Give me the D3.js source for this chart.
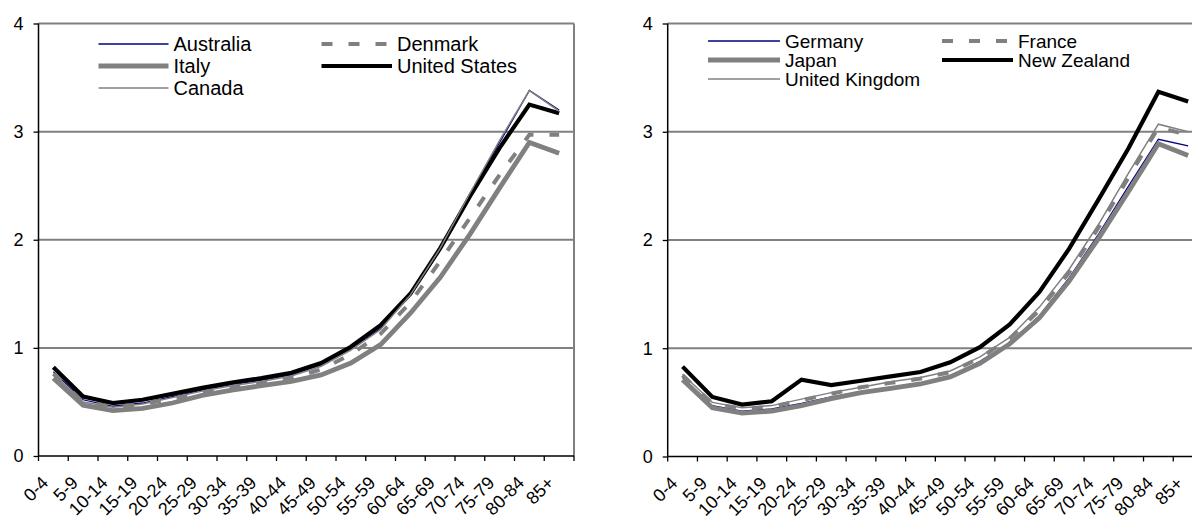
<!DOCTYPE html>
<html>
<head>
<meta charset="utf-8">
<script src="https://cdn.jsdelivr.net/npm/d3@7"></script>
<style>
  html, body { margin: 0; padding: 0; background: #fff; }
  svg { display: block; font-family: "Liberation Sans", Arial, sans-serif; }
</style>
</head>
<body>
<svg id="chart" width="1192" height="521"></svg>
<script>
// ---- data ----
const categories = ["0-4","5-9","10-14","15-19","20-24","25-29","30-34","35-39","40-44","45-49","50-54","55-59","60-64","65-69","70-74","75-79","80-84","85+"];
const yTicks = [0, 1, 2, 3, 4];

// left panel
const australia    = [0.78,0.52,0.46,0.49,0.55,0.61,0.66,0.70,0.75,0.84,0.99,1.18,1.50,1.92,2.42,2.90,3.38,3.20];
const denmark      = [0.76,0.51,0.45,0.48,0.53,0.59,0.64,0.68,0.72,0.80,0.94,1.13,1.42,1.80,2.20,2.60,2.97,2.97];
const italy        = [0.72,0.47,0.42,0.44,0.49,0.56,0.61,0.65,0.69,0.75,0.86,1.03,1.32,1.65,2.05,2.48,2.90,2.80];
const unitedStates = [0.82,0.55,0.49,0.52,0.575,0.63,0.68,0.72,0.77,0.86,1.01,1.21,1.50,1.92,2.40,2.85,3.25,3.17];
const canada       = [0.76,0.50,0.45,0.48,0.54,0.60,0.65,0.69,0.74,0.83,0.98,1.17,1.49,1.92,2.43,2.92,3.38,3.19];

// right panel
const germany        = [0.73,0.47,0.42,0.44,0.49,0.55,0.60,0.64,0.68,0.74,0.88,1.05,1.30,1.65,2.06,2.50,2.93,2.87];
const france         = [0.75,0.49,0.44,0.46,0.52,0.58,0.64,0.68,0.72,0.78,0.91,1.09,1.35,1.70,2.12,2.58,3.04,2.97];
const japan          = [0.71,0.45,0.40,0.42,0.47,0.535,0.59,0.63,0.67,0.735,0.86,1.04,1.28,1.62,2.02,2.45,2.89,2.78];
const newZealand     = [0.83,0.55,0.48,0.51,0.71,0.66,0.70,0.74,0.78,0.87,1.01,1.22,1.52,1.92,2.38,2.85,3.37,3.28];
const unitedKingdom  = [0.76,0.50,0.45,0.47,0.53,0.59,0.64,0.69,0.73,0.79,0.92,1.10,1.38,1.73,2.15,2.62,3.07,3.00];

const leftNames  = ["Australia","Denmark","Italy","United States","Canada"];
const rightNames = ["Germany","France","Japan","New Zealand","United Kingdom"];

// ---- styles ----
const GRAY = "#808080";
const styles = [
  {stroke: "#000080", width: 1.3, dash: null},   // thin navy
  {stroke: GRAY, width: 4, dash: "11,16"},        // dashed gray
  {stroke: GRAY, width: 4.8, dash: null},         // thick gray
  {stroke: "#000000", width: 4.2, dash: null},    // thick black
  {stroke: GRAY, width: 1.5, dash: null}          // thin gray
];

const svg = d3.select("#chart");

function panel(opts) {
  const {x0, x1, top, bottom, names, data, legend} = opts;
  const g = svg.append("g");
  const x = d3.scaleBand().domain(categories).range([x0, x1]);
  const y = d3.scaleLinear().domain([0, 4]).range([bottom, top]);

  // grid lines (gray) at 1..4
  g.append("g").selectAll("line").data(yTicks.filter(t => t > 0)).join("line")
    .attr("x1", x0).attr("x2", x1)
    .attr("y1", d => y(d)).attr("y2", d => y(d))
    .attr("stroke", GRAY).attr("stroke-width", 2);
  // right border
  g.append("line").attr("x1", x1).attr("x2", x1).attr("y1", y(4)).attr("y2", y(0))
    .attr("stroke", GRAY).attr("stroke-width", 2);

  // y axis
  const yAxis = d3.axisLeft(y).tickValues(yTicks).tickFormat(d3.format("d"))
    .tickSize(5).tickPadding(10);
  const ya = g.append("g").attr("transform", `translate(${x0},0)`).call(yAxis);
  ya.select(".domain").attr("stroke", "#000").attr("stroke-width", 1.5).attr("d", `M-0,${y(4)}V${y(0)}`);
  ya.selectAll(".tick line").attr("stroke", "#000").attr("stroke-width", 1.3);
  ya.selectAll(".tick text").attr("font-size", 18).attr("fill", "#000")
    .attr("font-family", "'Liberation Sans', Arial, sans-serif");

  // x axis: labels via axis, ticks at band edges
  const xAxis = d3.axisBottom(x).tickSize(0).tickPadding(0);
  const xa = g.append("g").attr("transform", `translate(0,${bottom})`).call(xAxis);
  xa.select(".domain").attr("stroke", "#000").attr("stroke-width", 1.5).attr("d", `M${x0},0H${x1}`);
  xa.selectAll(".tick text")
    .attr("font-size", 18).attr("fill", "#000")
    .attr("font-family", "'Liberation Sans', Arial, sans-serif")
    .attr("text-anchor", "end")
    .attr("dy", null).attr("y", 0)
    .attr("transform", "translate(-4,28) rotate(-45)");
  const edges = categories.map(c => x(c)).concat([x1]);
  xa.append("g").selectAll("line").data(edges).join("line")
    .attr("x1", d => d).attr("x2", d => d).attr("y1", 0).attr("y2", 5)
    .attr("stroke", "#000").attr("stroke-width", 1.3);

  // lines
  const line = d3.line()
    .x((d, i) => x(categories[i]) + x.bandwidth() / 2)
    .y(d => y(d))
    .curve(d3.curveLinear);
  data.forEach((vals, i) => {
    const s = styles[i];
    g.append("path").datum(vals)
      .attr("d", line)
      .attr("fill", "none")
      .attr("stroke", s.stroke)
      .attr("stroke-width", s.width)
      .attr("stroke-dasharray", s.dash)
      .attr("stroke-linejoin", "miter");
  });

  // legend
  const lg = g.append("g");
  names.forEach((n, i) => {
    const col = i % 2, row = Math.floor(i / 2);
    const cx = legend.cols[col];
    const cy = legend.rowY[row];
    const s = styles[i];
    lg.append("line")
      .attr("x1", cx[0]).attr("x2", cx[1]).attr("y1", cy).attr("y2", cy)
      .attr("stroke", s.stroke).attr("stroke-width", s.width)
      .attr("stroke-dasharray", s.dash);
    lg.append("text")
      .attr("x", cx[1] + 5).attr("y", cy).attr("dy", "0.35em")
      .attr("font-size", legend.fontSize).attr("fill", "#000")
      .text(n);
  });
}

panel({
  x0: 38.5, x1: 574, top: 23.5, bottom: 456,
  names: leftNames,
  data: [australia, denmark, italy, unitedStates, canada],
  legend: {cols: [[98.5, 168.5], [321.5, 392]], rowY: [44, 66, 88], fontSize: 20}
});

panel({
  x0: 667.7, x1: 1203, top: 23.5, bottom: 456.5,
  names: rightNames,
  data: [germany, france, japan, newZealand, unitedKingdom],
  legend: {cols: [[708, 780], [942, 1013]], rowY: [41, 60, 79], fontSize: 19}
});
</script>
</body>
</html>
